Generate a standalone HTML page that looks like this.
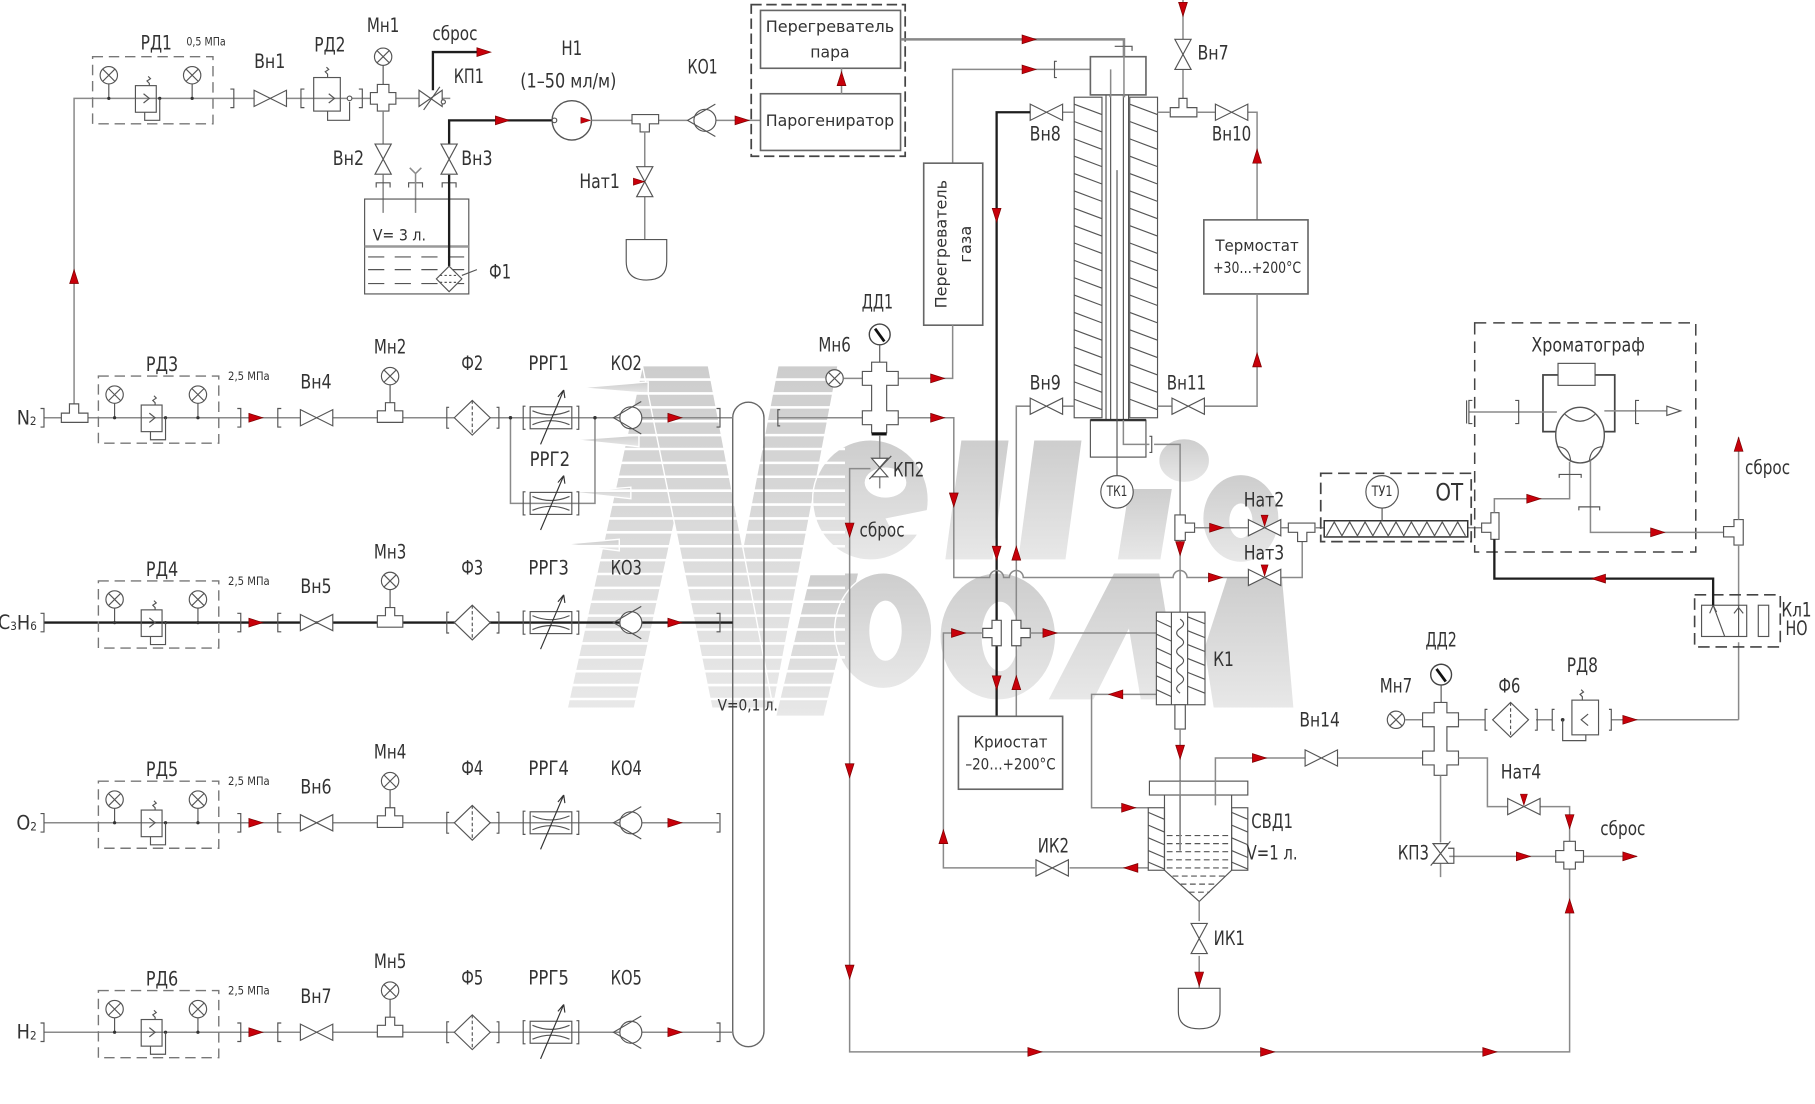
<!DOCTYPE html>
<html><head><meta charset="utf-8">
<style>
html,body{margin:0;padding:0;background:#fff;}
svg{display:block;}
.t{font-family:"Liberation Sans Narrow","DejaVu Sans Condensed","Liberation Sans",sans-serif;fill:#333;font-size:17px;text-anchor:middle;dominant-baseline:central;}
.m{font-size:14px;}
.s{font-size:10px;}
.ln{stroke:#8a8a8a;stroke-width:1.3;fill:none;}
.k{stroke:#1e1e1e;stroke-width:2;fill:none;}
.sy{stroke:#555;stroke-width:1;fill:none;}
.syw{stroke:#555;stroke-width:1;fill:#fff;}
.bx{stroke:#666;stroke-width:1.4;fill:#fff;}
.dsh{stroke:#555;stroke-width:1.3;fill:none;stroke-dasharray:10,5;}
</style></head><body>
<svg width="1815" height="1104" viewBox="0 0 1568 954" preserveAspectRatio="none" xmlns="http://www.w3.org/2000/svg">
<defs>
 <linearGradient id="wg" x1="0" y1="0" x2="0" y2="1">
  <stop offset="0" stop-color="#cdcdcd"/><stop offset="1" stop-color="#e8e8e8"/>
 </linearGradient>
 <g id="arR"><polygon points="-6,-3.8 6,0 -6,3.8" fill="#c8000a" stroke="#7a0000" stroke-width="0.6"/></g>
 <g id="g"><circle r="7.5" fill="#fff" stroke="#555" stroke-width="1"/><path d="M-5.3,-5.3L5.3,5.3M5.3,-5.3L-5.3,5.3" stroke="#555" stroke-width="1"/></g>
 <g id="dd"><circle r="9" fill="#fff" stroke="#444" stroke-width="1.2"/><path d="M-4,-5L4,6" stroke="#111" stroke-width="2.4"/></g>
 <g id="vh"><path d="M-14,-7L14,7V-7L-14,7Z" fill="#fff" stroke="#555" stroke-width="1"/></g>
 <g id="vv"><path d="M-7,-13L7,13H-7L7,-13Z" fill="#fff" stroke="#555" stroke-width="1"/></g>
 <g id="kv"><circle r="9.5" fill="#fff" stroke="#555" stroke-width="1"/><path d="M9,-14L-15,0L9,14" fill="none" stroke="#555" stroke-width="1"/></g>
 <g id="fd"><path d="M-15.5,0L0,-15L15.5,0L0,15Z" fill="#fff" stroke="#555" stroke-width="1"/><path d="M0,-15V15" stroke="#555" stroke-dasharray="3,2"/><path d="M-20,-9h-2v18h2M21,-9h2v18h-2" fill="none" stroke="#555"/></g>
 <g id="rrg"><rect x="-18" y="-9.5" width="36" height="19" fill="none" stroke="#555"/><path d="M-16,-6Q0,1 16,-6M-16,6Q0,-1 16,6" fill="none" stroke="#555"/><path d="M-9,23L11,-24M11,-24l-5,6M11,-24l1,7" stroke="#333" fill="none"/><path d="M-22,-10h-2v20h2M22,-10h2v20h-2" fill="none" stroke="#555"/></g>
 <g id="rd">
  <rect x="85" y="-36" width="104" height="58" fill="none" stroke="#777" stroke-width="1.2" stroke-dasharray="9,5"/>
  <path d="M99,-12.5V0M171,-12.5V0" stroke="#555"/>
  <use href="#g" x="99" y="-20"/><use href="#g" x="171" y="-20"/>
  <circle cx="99" cy="0" r="1.4" fill="#333"/><circle cx="171" cy="0" r="1.4" fill="#333"/><circle cx="143" cy="0" r="1.4" fill="#333"/>
  <rect x="122" y="-11" width="18" height="23" fill="none" stroke="#555"/>
  <path d="M134,-11v-2l-2,-2l3,-2l-2,-2M129,-4l5,4l-5,4M143,0v19h-13v-7" fill="none" stroke="#555"/>
 </g>
 <g id="row">
  <use href="#rd"/>
  <path d="M205,-8h3v16h-3M243,-8h-3v16h3" fill="none" stroke="#555"/>
  <use href="#arR" x="221" y="0"/>
  <use href="#vh" x="273.5" y="0"/>
  <path d="M326,4V-6h7v-7h8v7h7V4Z" fill="#fff" stroke="#555"/>
  <path d="M337,-13V-28.5" stroke="#555"/>
  <use href="#g" x="337" y="-36"/>
  <use href="#fd" x="408" y="0"/>
  <use href="#rrg" x="476" y="0"/>
  <use href="#kv" x="545" y="0"/>
  <use href="#arR" x="583" y="0"/>
  <path d="M619,-8h3v16h-3" fill="none" stroke="#555"/>
 </g>
</defs>
<rect width="1568" height="954" fill="#fff"/>

<!-- watermark -->
<g fill="url(#wg)" stroke="#fff" stroke-width="1.2">
 <polygon points="555,316 612,316 548,612 490,612"/>
 <polygon points="672,316 724,316 668,612 615,612"/>
 <polygon points="555,316 612,316 668,612 615,612"/>
 <polygon points="500,335 560,330 560,340"/>
 <polygon points="495,380 552,376 552,386"/>
 <polygon points="492,425 545,421 545,431"/>
 <polygon points="488,470 535,466 535,476"/>
 <ellipse cx="752" cy="432" rx="50" ry="52"/>
 <polygon points="830,380 872,380 858,484 816,484"/>
 <polygon points="893,380 935,380 921,484 879,484"/>
 <polygon points="975,422 1013,422 1003,484 965,484"/>
 <ellipse cx="1023" cy="398" rx="22" ry="19"/>
 <ellipse cx="1072" cy="448" rx="33" ry="38"/>
 <polygon points="700,495 742,495 712,619 670,619"/>
 <ellipse cx="763" cy="545" rx="42" ry="50"/>
 <ellipse cx="862" cy="550" rx="50" ry="55"/>
 <polygon points="962,495 1002,495 1020,605 985,605 975,545 945,605 905,605"/>
 <polygon points="1060,498 1108,498 1118,612 1048,612 1040,560"/>
</g>
<g fill="#fff">
 <ellipse cx="765" cy="417" rx="18" ry="13"/>
 <polygon points="765,448 805,440 805,462 772,462"/>
 <ellipse cx="765" cy="545" rx="14" ry="26"/>
 <ellipse cx="864" cy="550" rx="16" ry="30"/>
 <ellipse cx="1072" cy="450" rx="10" ry="15"/>
</g>
<path stroke="#fff" stroke-width="2.2" d="M480,328H730M480,340H730M480,352H730M480,364H730M480,376H730M480,388H730M480,400H730M480,412H730M480,424H730M480,436H730M480,448H730M480,460H730M480,472H730M480,484H730M480,496H730M480,508H730M480,520H730M480,532H730M480,544H730M480,556H730M480,568H730M480,580H730M480,592H730M480,604H730"/>

<!-- ===== top water line ===== -->
<path class="ln" stroke-width="1.6" d="M64,349V85H389"/>
<use href="#arR" transform="translate(64,239) rotate(-90)"/>
<g transform="translate(-5,85)"><use href="#rd"/></g>
<path class="sy" d="M199,77h3v16h-3M263,77h-3v16h3M310,77h3v16h-3"/>
<use href="#vh" x="233.5" y="85"/>
<rect class="sy" x="271" y="67" width="23" height="29"/>
<path class="sy" d="M283,67v-3l-2,-2l3,-2l-2,-2M284,81l5,4l-5,4M302,88V104H283V96"/>
<circle cx="302" cy="85" r="2" fill="#fff" stroke="#555"/>
<path class="syw" d="M326,73H336V80H342V90H336V96H326V90H320V80H326Z"/>
<path class="sy" d="M331,73V56.5"/>
<use href="#g" x="331" y="49"/>
<path class="syw" d="M362,78L382,92V78L362,92Z"/>
<path class="sy" d="M366,95L380,75"/>
<circle cx="383" cy="88" r="1.8" fill="#fff" stroke="#555"/>
<path class="k" d="M374,78V45H418"/>
<use href="#arR" x="418" y="45"/>

<path class="ln" d="M331,96V124M331,151V184"/>
<use href="#vv" x="331" y="137.5"/>
<path class="sy" d="M325,162V158H337V162M353,162V158H365V162M382,162V158H394V162"/>
<path class="ln" d="M359,184V150M354,145L359,150L364,145"/>
<rect class="sy" x="315" y="172" width="90" height="82"/>
<path stroke="#999" stroke-width="2.2" d="M315,213H405"/>
<path class="sy" stroke-dasharray="14,9" d="M318,222H404M318,233H404M318,245H404"/>
<path class="k" d="M388,230V151M388,124V104H477"/>
<use href="#vv" x="388" y="137.5"/>
<use href="#arR" x="434" y="104"/>
<path class="syw" d="M377,241L388,230L399,241L388,252Z"/>
<path class="sy" stroke-dasharray="2,2" d="M380,238H396M380,244H396"/>
<path class="sy" d="M399,238L412,233"/>

<!-- pump -->
<circle cx="494" cy="104" r="17" fill="#fff" stroke="#555" stroke-width="1.2"/>
<circle cx="479" cy="104" r="2" fill="#fff" stroke="#555"/>
<use href="#arR" transform="translate(506,104) scale(0.7)"/>
<path class="ln" d="M511,104H546M569,104H594M619,104H657"/>
<path class="syw" d="M546,99H569V107H561V114H553V107H546Z"/>
<path class="ln" d="M557,114V144M557,170V207"/>
<use href="#vv" x="557" y="157"/>
<use href="#arR" transform="translate(552,157) scale(0.8)"/>
<path class="sy" d="M541,207H576V226Q576,242 558.5,242Q541,242 541,226Z"/>
<use href="#kv" x="609" y="104"/>
<use href="#arR" x="641" y="104"/>

<!-- steam boxes -->
<rect x="649" y="4" width="133" height="131" fill="none" stroke="#444" stroke-width="1.5" stroke-dasharray="9,4"/>
<rect class="bx" x="657" y="9" width="121" height="50"/>
<rect class="bx" x="657" y="81" width="121" height="49"/>
<path class="ln" d="M727,81V59"/>
<use href="#arR" transform="translate(727,68) rotate(-90)"/>
<path stroke="#888" stroke-width="2.2" fill="none" d="M778,34H971V84"/>
<use href="#arR" x="889" y="34"/>
<path class="sy" d="M963,40H978V44"/>
<path class="ln" d="M823,141V60H959V84"/>
<use href="#arR" x="889" y="60"/>
<path class="sy" d="M913,53h-2v14h2"/>
<rect class="bx" x="798" y="141" width="51" height="140"/>
<path class="ln" d="M823,281V327H776"/>
<use href="#arR" x="810" y="327"/>

<!-- reactor -->
<rect class="bx" x="942" y="49" width="48" height="33"/>
<path class="ln" d="M959.5,60V84M971,40V84"/>
<rect class="sy" x="928" y="84" width="24" height="277"/>
<rect class="sy" x="976" y="84" width="24" height="277"/>
<path class="sy" d="M928,90L952,99M928,105L952,114M928,120L952,129M928,135L952,144M928,150L952,159M928,165L952,174M928,180L952,189M928,195L952,204M928,210L952,219M928,225L952,234M928,240L952,249M928,255L952,264M928,270L952,279M928,285L952,294M928,300L952,309M928,315L952,324M928,330L952,339M928,345L952,354"/>
<path class="sy" d="M976,90L1000,99M976,105L1000,114M976,120L1000,129M976,135L1000,144M976,150L1000,159M976,165L1000,174M976,180L1000,189M976,195L1000,204M976,210L1000,219M976,225L1000,234M976,240L1000,249M976,255L1000,264M976,270L1000,279M976,285L1000,294M976,300L1000,309M976,315L1000,324M976,330L1000,339M976,345L1000,354"/>
<path class="sy" d="M955.5,82V363M975,82V363M959.5,84V363M970.5,84V363"/>
<rect class="sy" x="942" y="363" width="48" height="32"/>
<path stroke="#333" stroke-width="2" d="M942,363H990"/>
<path class="sy" d="M965,147V411"/>
<circle cx="965" cy="425" r="14" fill="#fff" stroke="#555"/>
<path class="ln" d="M970.5,363V384H993M997,384H1019.5V445"/>
<path class="sy" d="M993,377h2v14h-2"/>

<!-- Вн7 / Вн10 / thermostat -->
<path class="ln" d="M1022,0V85"/>
<use href="#arR" transform="translate(1022,8) rotate(90)"/>
<use href="#vv" x="1022" y="47"/>
<path class="syw" d="M1011,93H1018.5V85H1025.5V93H1034V101H1011Z"/>
<path class="ln" d="M1000,97H1011M1034,97H1050M1078,97H1086V190"/>
<use href="#vh" x="1064" y="97"/>
<use href="#arR" transform="translate(1086,135) rotate(-90)"/>
<rect class="bx" x="1040" y="190" width="90" height="64"/>
<path class="ln" d="M1086,254V351H1041M1012,351H1000"/>
<use href="#arR" transform="translate(1086,311) rotate(-90)"/>
<use href="#vh" x="1026.5" y="351"/>

<!-- Вн8 / Вн9 -->
<path class="ln" d="M928,97H918"/>
<use href="#vh" x="904" y="97"/>
<path class="k" d="M890,97H861V619"/>
<use href="#arR" transform="translate(861,186) rotate(90)"/>
<path class="ln" d="M928,351H918M890,351H878V619"/>
<use href="#vh" x="904" y="351"/>

<!-- horizontal line 499 -->
<path class="ln" d="M776,361H824V499H855a6,6 0 0 1 12,0H872a6,6 0 0 1 12,0H1013.5a6,6 0 0 1 12,0H1078M1107,499H1125V468"/>
<use href="#arR" x="810" y="361"/>
<use href="#arR" transform="translate(824,432) rotate(90)"/>
<use href="#arR" x="1050" y="499"/>
<use href="#vh" x="1092.5" y="499"/>
<use href="#arR" transform="translate(1092.5,493) rotate(90) scale(0.8)"/>
<use href="#arR" transform="translate(861,478) rotate(90)"/>
<use href="#arR" transform="translate(878,478) rotate(-90)"/>
<use href="#arR" transform="translate(861,590) rotate(90)"/>
<use href="#arR" transform="translate(878,590) rotate(-90)"/>

<!-- Нат2 -->
<path class="syw" d="M1015,445H1024V452H1032V460H1024V467H1015Z"/>
<path class="ln" d="M1032,456H1078M1107,456H1113M1019.5,467V529"/>
<use href="#arR" x="1051" y="456"/>
<use href="#arR" transform="translate(1019.5,474) rotate(90)"/>
<use href="#vh" x="1092.5" y="456"/>
<use href="#arR" transform="translate(1092.5,450) rotate(90) scale(0.8)"/>
<path class="syw" d="M1113,452H1136V460H1129V468H1121V460H1113Z"/>
<path class="ln" d="M1136,456H1144M1268,456H1280"/>

<!-- ОТ -->
<rect x="1141" y="409" width="130" height="59" fill="none" stroke="#444" stroke-width="1.5" stroke-dasharray="10,5"/>
<rect x="1144" y="450" width="124" height="14" fill="#fff" stroke="#333" stroke-width="1.3"/>
<polyline class="sy" points="1146,463 1152.7,451 1159.3,463 1166,451 1172.7,463 1179.3,451 1186,463 1192.7,451 1199.3,463 1206,451 1212.7,463 1219.3,451 1226,463 1232.7,451 1239.3,463 1246,451 1252.7,463 1259.3,451 1266,463"/>
<circle cx="1194" cy="425" r="14" fill="#fff" stroke="#555"/>
<path class="sy" d="M1194,439V450"/>
<path class="syw" d="M1288,443H1295V466H1288V460H1280V452H1288Z"/>

<!-- chromatograph -->
<rect x="1274" y="279" width="191" height="198" fill="none" stroke="#444" stroke-width="1.3" stroke-dasharray="10,6"/>
<rect x="1333" y="324" width="62" height="49" fill="none" stroke="#444" stroke-width="1.5"/>
<rect x="1346" y="314" width="32" height="19" fill="#fff" stroke="#555"/>
<path class="ln" d="M1269,356H1345M1386,355H1442"/>
<ellipse cx="1365" cy="376" rx="21" ry="24" fill="#fff" stroke="#555" stroke-width="1.2"/>
<path class="sy" d="M1352,358Q1365,370 1378,358M1345,386Q1356,386 1357,399M1385,386Q1374,386 1373,399"/>
<path class="sy" d="M1267,346v20M1272,346h-3v20h3M1309,346h3v20h-3M1416,346h-3v20h3"/>
<polygon points="1440,351 1452,355 1440,359" fill="#fff" stroke="#555"/>
<path class="ln" d="M1356,399V431H1291V443"/>
<path class="sy" d="M1347,413V410H1366V413"/>
<use href="#arR" x="1325" y="431"/>
<path class="ln" d="M1374,398V460H1498"/>
<path class="sy" d="M1364,441V438H1382V441"/>
<use href="#arR" x="1432" y="460"/>
<path class="syw" d="M1498,449H1506V471H1498V464H1489V455H1498Z"/>
<path class="ln" d="M1502,622V555M1502,524V471M1502,449V378"/>
<use href="#arR" transform="translate(1502,384) rotate(-90)"/>

<!-- Кл1 -->
<rect x="1464" y="514" width="74" height="45" fill="none" stroke="#444" stroke-width="1.4" stroke-dasharray="10,5"/>
<rect class="sy" x="1470" y="523" width="39" height="27"/>
<rect class="sy" x="1519" y="523" width="9" height="27"/>
<path class="sy" d="M1502,523V550M1498,530l4,-5l4,5M1480,523L1490,550M1477,530l3,-7l3,6"/>
<path class="k" stroke-width="1.4" d="M1291,466V500H1480V523"/>
<use href="#arR" transform="translate(1381,500) rotate(180)"/>

<!-- ДД1 fitting -->
<use href="#dd" x="760" y="289"/>
<path class="sy" d="M760,298V313"/>
<use href="#g" x="721" y="327"/>
<path class="ln" d="M729,327H745M672,361H745"/>
<path class="syw" d="M753,313H766V321H776V333H766V355H776V367H766V374H753V367H745V355H753V333H745V321H753Z"/>
<path stroke="#111" stroke-width="2.6" d="M753,375H766"/>
<path class="sy" d="M674,354h-2v14h2"/>
<path class="ln" d="M760,376V422M752,405H734V909H1356V751"/>
<path class="syw" d="M753,396L767,412H753L767,396Z"/>
<path class="sy" d="M751,414L770,394"/>
<use href="#arR" transform="translate(734,458) rotate(90)"/>
<use href="#arR" transform="translate(734,666) rotate(90)"/>
<use href="#arR" transform="translate(734,840) rotate(90)"/>
<use href="#arR" x="894" y="909"/>
<use href="#arR" x="1095" y="909"/>
<use href="#arR" x="1287" y="909"/>
<use href="#arR" transform="translate(1356,783) rotate(-90)"/>

<!-- V=0,1 vessel -->
<path stroke="#666" stroke-width="1.2" fill="none" d="M633,891V361A13.5,13.5 0 0 1 660,361V891A13.5,13.5 0 0 1 633,891"/>

<!-- cryostat circuit -->
<path class="syw" d="M857,536H865V558H857V551H849V543H857Z"/>
<path class="syw" d="M874,536H882V543H890V551H882V558H874Z"/>
<path class="ln" d="M849,547H815V750H894M924,750H992M890,547H999M999,600H943V698H992"/>
<use href="#arR" x="828" y="547"/>
<use href="#arR" transform="translate(815,723) rotate(-90)"/>
<use href="#arR" transform="translate(977,750) rotate(180)"/>
<use href="#arR" x="907" y="547"/>
<use href="#arR" transform="translate(964,600) rotate(180)"/>
<use href="#arR" x="975" y="698"/>
<use href="#vh" x="909" y="750"/>
<rect class="bx" x="828" y="619" width="90" height="63"/>

<!-- K1 -->
<rect class="syw" x="999" y="529" width="42" height="80"/>
<path class="sy" d="M1012,529V609M1026,529V609"/>
<path class="sy" d="M999,536L1012,542M999,548L1012,554M999,560L1012,566M999,572L1012,578M999,584L1012,590M999,596L1012,602M1026,533L1041,539M1026,545L1041,551M1026,557L1041,563M1026,569L1041,575M1026,581L1041,587M1026,593L1041,599"/>
<path class="sy" d="M1019.5,535q6,4 0,8q-6,4 0,8q6,4 0,8q-6,4 0,8q6,4 0,8q-6,4 0,8q6,4 0,8q-6,4 0,8"/>
<rect class="syw" x="1015" y="609" width="9" height="21"/>
<path class="ln" d="M1019.5,630V735"/>
<use href="#arR" transform="translate(1019.5,650) rotate(90)"/>

<!-- СВД1 -->
<rect class="syw" x="993" y="675" width="85" height="12"/>
<path class="sy" d="M1006,687V752L1036,779L1064,752V687"/>
<rect class="sy" x="992" y="698" width="14" height="54"/>
<rect class="sy" x="1064" y="698" width="14" height="54"/>
<path class="sy" d="M992,702L1006,708M992,713L1006,719M992,724L1006,730M992,735L1006,741M992,745L1006,751M1064,702L1078,708M1064,713L1078,719M1064,724L1078,730M1064,735L1078,741M1064,745L1078,751"/>
<path class="sy" stroke-dasharray="5,3" d="M1008,722H1063M1008,729H1063M1008,736H1063M1008,743H1063M1008,750H1063M1013,757H1059M1020,764H1052M1027,771H1045"/>
<path class="ln" d="M1019.5,675V735M1050,696V655H1127M1156,655H1229"/>
<use href="#arR" x="1088" y="655"/>
<use href="#vh" x="1141.5" y="655"/>
<path class="ln" d="M1036,779V796M1036,826V854"/>
<use href="#vv" x="1036" y="811"/>
<use href="#arR" transform="translate(1036,846) rotate(90)"/>
<path class="sy" d="M1018,854H1054V874Q1054,889 1036,889Q1018,889 1018,874Z"/>

<!-- bottom right -->
<use href="#g" x="1206" y="622"/>
<use href="#dd" x="1245" y="583"/>
<path class="sy" d="M1245,592V607"/>
<path class="ln" d="M1214,622H1229M1260,622H1283M1327,622H1341M1392,622H1502"/>
<path class="syw" d="M1239,607H1250V616H1260V628H1250V649H1260V661H1250V670H1239V661H1229V649H1239V628H1229V616H1239Z"/>
<use href="#fd" x="1305" y="622"/>
<path class="sy" d="M1343,613h-2v18h2M1390,613h2v18h-2"/>
<circle cx="1350" cy="622" r="1.6" fill="#333"/>
<rect class="sy" x="1358" y="605" width="23" height="30"/>
<path class="sy" d="M1372,617l-6,5l6,5M1367,605v-3l-2,-2l3,-2l-2,-2M1350,622V640H1370V635"/>
<use href="#arR" x="1408" y="622"/>
<path class="ln" d="M1260,655H1285V697H1303M1330,697H1356V727M1244.5,670V728M1244.5,746V758M1252,740H1344M1368,740H1414"/>
<use href="#vh" x="1316.5" y="697"/>
<use href="#arR" transform="translate(1316.5,691) rotate(90) scale(0.8)"/>
<use href="#arR" transform="translate(1356,710) rotate(90)"/>
<path class="syw" d="M1238,729L1251,746H1238L1251,729Z"/>
<path class="sy" d="M1236,748L1253,727M1251,733H1256V746H1251"/>
<use href="#arR" x="1316" y="740"/>
<path class="syw" d="M1351,727H1361V735H1368V745H1361V751H1351V745H1344V735H1351Z"/>
<use href="#arR" x="1408" y="740"/>

<!-- gas rows -->
<path class="ln" stroke-width="1.5" d="M38,361H633"/>
<path class="syw" d="M53,365V357H60V349H68V357H76V365Z"/>
<path class="ln" d="M441,361V435H514V361"/>
<circle cx="441" cy="361" r="1.5" fill="#333"/><circle cx="514" cy="361" r="1.5" fill="#333"/>
<use href="#rrg" x="476" y="435"/>
<g transform="translate(0,361)"><use href="#row"/></g>
<path class="k" stroke-width="2.2" d="M38,538H633"/>
<g transform="translate(0,538)"><use href="#row"/></g>
<path class="ln" stroke-width="1.5" d="M38,711H621"/>
<g transform="translate(0,711)"><use href="#row"/></g>
<path class="ln" stroke-width="1.5" d="M38,892H633"/>
<g transform="translate(0,892)"><use href="#row"/></g>
<path class="sy" d="M35,353h3v16h-3M35,530h3v16h-3M35,703h3v16h-3M35,884h3v16h-3"/>

<!-- ===== text ===== -->
<text class="t" x="135" y="37" textLength="27" lengthAdjust="spacingAndGlyphs">РД1</text>
<text class="t s" x="178" y="36" textLength="34" lengthAdjust="spacingAndGlyphs">0,5 МПа</text>
<text class="t" x="233" y="53" textLength="27" lengthAdjust="spacingAndGlyphs">Вн1</text>
<text class="t" x="285" y="39" textLength="27" lengthAdjust="spacingAndGlyphs">РД2</text>
<text class="t" x="331" y="22" textLength="28" lengthAdjust="spacingAndGlyphs">Мн1</text>
<text class="t" x="393" y="29" textLength="39" lengthAdjust="spacingAndGlyphs">сброс</text>
<text class="t" x="405" y="66" textLength="26" lengthAdjust="spacingAndGlyphs">КП1</text>
<text class="t" x="494" y="42" textLength="18" lengthAdjust="spacingAndGlyphs">Н1</text>
<text class="t" x="491" y="70" textLength="83" lengthAdjust="spacingAndGlyphs">(1–50 мл/м)</text>
<text class="t" x="607" y="58" textLength="26" lengthAdjust="spacingAndGlyphs">КО1</text>
<text class="t" x="301" y="137" textLength="27" lengthAdjust="spacingAndGlyphs">Вн2</text>
<text class="t" x="412" y="137" textLength="27" lengthAdjust="spacingAndGlyphs">Вн3</text>
<text class="t m" x="345" y="203" textLength="46" lengthAdjust="spacingAndGlyphs">V= 3 л.</text>
<text class="t" x="432" y="235" textLength="19" lengthAdjust="spacingAndGlyphs">Ф1</text>
<text class="t" x="518" y="157" textLength="35" lengthAdjust="spacingAndGlyphs">Нат1</text>
<text class="t m" x="717" y="23" textLength="111" lengthAdjust="spacingAndGlyphs">Перегреватель</text>
<text class="t m" x="717" y="45" textLength="34" lengthAdjust="spacingAndGlyphs">пара</text>
<text class="t m" x="717" y="104" textLength="111" lengthAdjust="spacingAndGlyphs">Парогениратор</text>
<text class="t m" transform="translate(813,211) rotate(-90)" textLength="111" lengthAdjust="spacingAndGlyphs">Перегреватель</text>
<text class="t m" transform="translate(834,211) rotate(-90)" textLength="32" lengthAdjust="spacingAndGlyphs">газа</text>
<text class="t" x="758" y="261" textLength="27" lengthAdjust="spacingAndGlyphs">ДД1</text>
<text class="t" x="721" y="298" textLength="28" lengthAdjust="spacingAndGlyphs">Мн6</text>
<text class="t" x="785" y="406" textLength="27" lengthAdjust="spacingAndGlyphs">КП2</text>
<text class="t" x="762" y="458" textLength="39" lengthAdjust="spacingAndGlyphs">сброс</text>
<text class="t m" x="646" y="609" textLength="52" lengthAdjust="spacingAndGlyphs">V=0,1 л.</text>
<text class="t" x="903" y="116" textLength="27" lengthAdjust="spacingAndGlyphs">Вн8</text>
<text class="t" x="1048" y="46" textLength="27" lengthAdjust="spacingAndGlyphs">Вн7</text>
<text class="t" x="1064" y="116" textLength="34" lengthAdjust="spacingAndGlyphs">Вн10</text>
<text class="t" x="903" y="331" textLength="27" lengthAdjust="spacingAndGlyphs">Вн9</text>
<text class="t" x="1025" y="331" textLength="34" lengthAdjust="spacingAndGlyphs">Вн11</text>
<text class="t m" x="1086" y="212" textLength="72" lengthAdjust="spacingAndGlyphs">Термостат</text>
<text class="t m" x="1086" y="231" textLength="76" lengthAdjust="spacingAndGlyphs">+30…+200°С</text>
<text class="t" style="font-size:12px" x="965" y="425" textLength="18" lengthAdjust="spacingAndGlyphs">ТК1</text>
<text class="t" style="font-size:12px" x="1194" y="425" textLength="18" lengthAdjust="spacingAndGlyphs">ТУ1</text>
<text class="t" style="font-size:21px" x="1252" y="425" textLength="24" lengthAdjust="spacingAndGlyphs">ОТ</text>
<text class="t" x="1372" y="298" textLength="98" lengthAdjust="spacingAndGlyphs">Хроматограф</text>
<text class="t" x="1092" y="432" textLength="35" lengthAdjust="spacingAndGlyphs">Нат2</text>
<text class="t" x="1092" y="478" textLength="35" lengthAdjust="spacingAndGlyphs">Нат3</text>
<text class="t" x="1527" y="404" textLength="39" lengthAdjust="spacingAndGlyphs">сброс</text>
<text class="t" x="1552" y="527" textLength="26" lengthAdjust="spacingAndGlyphs">Кл1</text>
<text class="t" x="1552" y="543" textLength="19" lengthAdjust="spacingAndGlyphs">НО</text>
<text class="t" x="1057" y="570" textLength="18" lengthAdjust="spacingAndGlyphs">К1</text>
<text class="t m" x="873" y="641" textLength="64" lengthAdjust="spacingAndGlyphs">Криостат</text>
<text class="t m" x="873" y="660" textLength="78" lengthAdjust="spacingAndGlyphs">–20…+200°С</text>
<text class="t" x="910" y="731" textLength="27" lengthAdjust="spacingAndGlyphs">ИК2</text>
<text class="t" x="1099" y="710" textLength="36" lengthAdjust="spacingAndGlyphs">СВД1</text>
<text class="t" x="1099" y="737" textLength="44" lengthAdjust="spacingAndGlyphs">V=1 л.</text>
<text class="t" x="1062" y="811" textLength="27" lengthAdjust="spacingAndGlyphs">ИК1</text>
<text class="t" x="1140" y="622" textLength="35" lengthAdjust="spacingAndGlyphs">Вн14</text>
<text class="t" x="1245" y="553" textLength="27" lengthAdjust="spacingAndGlyphs">ДД2</text>
<text class="t" x="1206" y="593" textLength="28" lengthAdjust="spacingAndGlyphs">Мн7</text>
<text class="t" x="1304" y="593" textLength="19" lengthAdjust="spacingAndGlyphs">Ф6</text>
<text class="t" x="1367" y="575" textLength="27" lengthAdjust="spacingAndGlyphs">РД8</text>
<text class="t" x="1314" y="667" textLength="35" lengthAdjust="spacingAndGlyphs">Нат4</text>
<text class="t" x="1221" y="737" textLength="27" lengthAdjust="spacingAndGlyphs">КП3</text>
<text class="t" x="1402" y="716" textLength="39" lengthAdjust="spacingAndGlyphs">сброс</text>

<!-- row labels -->
<text class="t" x="23" y="361">N<tspan font-size="10" dy="3">2</tspan></text>
<text class="t" x="15" y="538">C<tspan font-size="10" dy="3">3</tspan><tspan dy="-3">H</tspan><tspan font-size="10" dy="3">6</tspan></text>
<text class="t" x="23" y="711">O<tspan font-size="10" dy="3">2</tspan></text>
<text class="t" x="23" y="892">H<tspan font-size="10" dy="3">2</tspan></text>

<text class="t" x="140" y="315" textLength="28" lengthAdjust="spacingAndGlyphs">РД3</text>
<text class="t s" x="215" y="325" textLength="36" lengthAdjust="spacingAndGlyphs">2,5 МПа</text>
<text class="t" x="273" y="330" textLength="27" lengthAdjust="spacingAndGlyphs">Вн4</text>
<text class="t" x="337" y="300" textLength="28" lengthAdjust="spacingAndGlyphs">Мн2</text>
<text class="t" x="408" y="314" textLength="19" lengthAdjust="spacingAndGlyphs">Ф2</text>
<text class="t" x="474" y="314" textLength="35" lengthAdjust="spacingAndGlyphs">РРГ1</text>
<text class="t" x="541" y="314" textLength="27" lengthAdjust="spacingAndGlyphs">КО2</text>
<text class="t" x="475" y="397" textLength="35" lengthAdjust="spacingAndGlyphs">РРГ2</text>

<text class="t" x="140" y="492" textLength="28" lengthAdjust="spacingAndGlyphs">РД4</text>
<text class="t s" x="215" y="502" textLength="36" lengthAdjust="spacingAndGlyphs">2,5 МПа</text>
<text class="t" x="273" y="507" textLength="27" lengthAdjust="spacingAndGlyphs">Вн5</text>
<text class="t" x="337" y="477" textLength="28" lengthAdjust="spacingAndGlyphs">Мн3</text>
<text class="t" x="408" y="491" textLength="19" lengthAdjust="spacingAndGlyphs">Ф3</text>
<text class="t" x="474" y="491" textLength="35" lengthAdjust="spacingAndGlyphs">РРГ3</text>
<text class="t" x="541" y="491" textLength="27" lengthAdjust="spacingAndGlyphs">КО3</text>

<text class="t" x="140" y="665" textLength="28" lengthAdjust="spacingAndGlyphs">РД5</text>
<text class="t s" x="215" y="675" textLength="36" lengthAdjust="spacingAndGlyphs">2,5 МПа</text>
<text class="t" x="273" y="680" textLength="27" lengthAdjust="spacingAndGlyphs">Вн6</text>
<text class="t" x="337" y="650" textLength="28" lengthAdjust="spacingAndGlyphs">Мн4</text>
<text class="t" x="408" y="664" textLength="19" lengthAdjust="spacingAndGlyphs">Ф4</text>
<text class="t" x="474" y="664" textLength="35" lengthAdjust="spacingAndGlyphs">РРГ4</text>
<text class="t" x="541" y="664" textLength="27" lengthAdjust="spacingAndGlyphs">КО4</text>

<text class="t" x="140" y="846" textLength="28" lengthAdjust="spacingAndGlyphs">РД6</text>
<text class="t s" x="215" y="856" textLength="36" lengthAdjust="spacingAndGlyphs">2,5 МПа</text>
<text class="t" x="273" y="861" textLength="27" lengthAdjust="spacingAndGlyphs">Вн7</text>
<text class="t" x="337" y="831" textLength="28" lengthAdjust="spacingAndGlyphs">Мн5</text>
<text class="t" x="408" y="845" textLength="19" lengthAdjust="spacingAndGlyphs">Ф5</text>
<text class="t" x="474" y="845" textLength="35" lengthAdjust="spacingAndGlyphs">РРГ5</text>
<text class="t" x="541" y="845" textLength="27" lengthAdjust="spacingAndGlyphs">КО5</text>
</svg>
</body></html>
